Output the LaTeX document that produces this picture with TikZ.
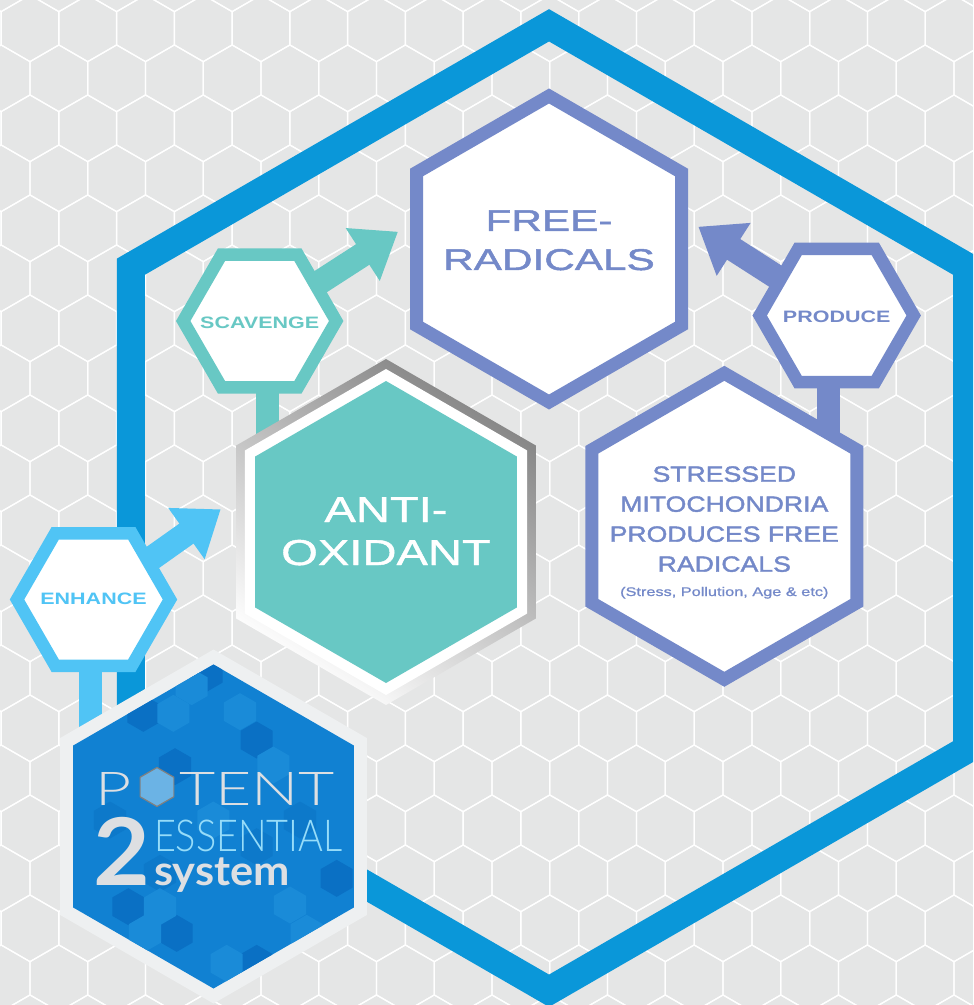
\documentclass[tikz,border=0pt]{standalone}
\usepackage{fontspec}
\usetikzlibrary{shapes.geometric,arrows.meta}
\setmainfont{Liberation Sans}
\newfontfamily\wideA[FakeStretch=1.41,FakeBold=1.6]{Liberation Sans}
\newfontfamily\wideB[FakeStretch=1.31,FakeBold=1.2]{Liberation Sans}
\newfontfamily\wideC[FakeStretch=1.21,FakeBold=1.8]{Liberation Sans}
\newfontfamily\wideD[FakeStretch=1.30]{Liberation Sans Bold}
\newfontfamily\wideS[FakeStretch=1.30,FakeBold=1.0]{Liberation Sans}
\newfontfamily\logothin[FakeStretch=1.34]{Lato}[UprightFont={* Light}]
\newfontfamily\logonarrow[FakeStretch=0.86]{Lato}[UprightFont={* Light}]
\newfontfamily\logobold[FakeStretch=1.05]{Lato}[UprightFont={* Bold}]
\definecolor{tilegray}{HTML}{E5E6E6}
\definecolor{frameblue}{HTML}{0A97D9}
\definecolor{sky}{HTML}{50C4F5}
\definecolor{teal2}{HTML}{68C8C4}
\definecolor{peri}{HTML}{7489C9}
\definecolor{logoblue}{HTML}{1181D2}
\definecolor{logodark}{HTML}{0A70C4}
\definecolor{logomid}{HTML}{0D79CA}
\definecolor{logolight}{HTML}{1A8BD8}
\definecolor{ringgray}{HTML}{EEF0F1}
\definecolor{silver}{HTML}{DDDFE2}
\def\u{0.75pt}
\tikzset{
  x=0.75pt,y=-0.75pt,
  hexnode/.style={regular polygon,regular polygon sides=6,shape border rotate=30,outer sep=0pt,inner sep=0pt,minimum size=#1*1.5pt},
  flathex/.style={regular polygon,regular polygon sides=6,outer sep=0pt,inner sep=0pt,minimum size=#1*1.5pt},
  stem/.style={line width=23*\u},
  pointer/.style={line width=24.5*\u,-{Triangle[length=31.5pt,width=45pt]}},
  label/.style={anchor=base,inner sep=0pt,outer sep=0pt},
  tile/.style={draw=white,line width=1.25*\u,line join=miter},
}
\newcommand{\hexat}[3]{([shift={(#1,#2)}]90:#3) -- ([shift={(#1,#2)}]150:#3) -- ([shift={(#1,#2)}]210:#3) -- ([shift={(#1,#2)}]270:#3) -- ([shift={(#1,#2)}]330:#3) -- ([shift={(#1,#2)}]30:#3) -- cycle}
\begin{document}
\begin{tikzpicture}
\clip (0,0) rectangle (973,1005);
\fill[tilegray] (0,0) rectangle (973,1005);
% background honeycomb
\foreach \k in {-1,...,20}{
  \pgfmathsetmacro\yy{28.3+50*\k}
  \pgfmathsetmacro\off{mod(\k+2,2)*28.87}
  \foreach \i in {-1,...,17}{
    \pgfmathsetmacro\xx{30+\off+57.75*\i}
    \path[tile] ([shift={(\xx,\yy)}]90:33.33) -- ([shift={(\xx,\yy)}]150:33.33) -- ([shift={(\xx,\yy)}]210:33.33) -- ([shift={(\xx,\yy)}]270:33.33) -- ([shift={(\xx,\yy)}]330:33.33) -- ([shift={(\xx,\yy)}]30:33.33) -- cycle;
  }
}
% big frame
\node[hexnode=482.7,draw=frameblue,line width=28*\u,line join=miter] (frame) at (549,508) {};
% named anchors of connectors
\coordinate (scavTip) at (398,231.7);
\coordinate (prodTip) at (698.3,226.7);
\coordinate (enhTip) at (220.7,509.3);
\coordinate (scavStem) at (267.5,440);
\coordinate (prodStem) at (828,440);
\coordinate (enhStem) at (90,740);
\node[flathex=83,inner sep=0pt] (scav) at (259.7,321) {};
\node[flathex=84,inner sep=0pt] (prod) at (836.7,315.5) {};
\node[flathex=83,inner sep=0pt] (enh) at (93.5,599.5) {};
% connectors
\draw[stem,teal2] (scavStem |- scav) -- (scavStem);
\draw[stem,peri] (prodStem |- prod) -- (prodStem);
\draw[stem,sky] (enhStem |- enh) -- (enhStem);
\draw[pointer,teal2] (scav.center) -- (scavTip);
\draw[pointer,peri] (prod.center) -- (prodTip);
\draw[pointer,sky] (enh.center) -- (enhTip);
% small hexagons
\node[flathex=76.5,draw=teal2,fill=white,line width=12.5*\u,line join=miter] at (scav) {};
\node[flathex=77,draw=peri,fill=white,line width=12.5*\u,line join=miter] at (prod) {};
\node[flathex=76.5,draw=sky,fill=white,line width=12.5*\u,line join=miter] at (enh) {};
% main hexagons
\node[hexnode=153,draw=peri,fill=white,line width=13*\u,line join=miter] (free) at (549,249) {};
\node[hexnode=153,draw=peri,fill=white,line width=13*\u,line join=miter] (mito) at (724.3,526.3) {};
% antioxidant
\node[hexnode=173,shade,top color=black!48,bottom color=white,shading angle=-35] (antiEdge) at (386,532) {};
\node[hexnode=163,fill=white] (antiRing) at (386,532) {};
\node[hexnode=151,fill=teal2] (anti) at (386,532) {};
% logo
\node[hexnode=177,fill=ringgray] (logoRing) at (213.5,826.5) {};
\node[hexnode=162,fill=logoblue] (logo) at (213.5,826.5) {};
\begin{scope}
  \clip \hexat{213.5}{826.5}{162};
  \foreach \zx/\zy in {430/190,525/350,770/270,1010/685,385/770,530/850,770/940,620/70}{
    \fill[logodark] \hexat{\zx/3}{650+\zy/3}{18.5};}
  \foreach \zx/\zy in {330/510,900/510,770/590,480/670}{
    \fill[logomid] \hexat{\zx/3}{650+\zy/3}{18.5};}
  \foreach \zx/\zy in {575/110,520/190,720/185,820/345,870/765,480/770,435/850,680/940,640/510,920/850}{
    \fill[logolight] \hexat{\zx/3}{650+\zy/3}{18.5};}
\end{scope}
% texts
\node[label,text=peri,font=\wideA\fontsize{22.5pt}{22.5pt}\selectfont] (t1) at (549,231) {FREE-};
\node[label,text=peri,font=\wideA\fontsize{22.5pt}{22.5pt}\selectfont] (t2) at (549,270) {RADICALS};
\node[label,text=white,font=\wideB\fontsize{27pt}{27pt}\selectfont] (t3) at (386,522) {ANTI-};
\node[label,text=white,font=\wideB\fontsize{27pt}{27pt}\selectfont] (t4) at (386,565) {OXIDANT};
\node[label,text=teal2,font=\wideD\fontsize{12.4pt}{12.4pt}\selectfont] (t5) at (259.7,328) {SCAVENGE};
\node[label,text=peri,font=\wideD\fontsize{12.4pt}{12.4pt}\selectfont] (t6) at (836.7,322) {PRODUCE};
\node[label,text=sky,font=\wideD\fontsize{12.4pt}{12.4pt}\selectfont] (t7) at (93.5,604.5) {ENHANCE};
\node[label,text=peri,font=\wideC\fontsize{16.5pt}{16.5pt}\selectfont] (t8) at (724.3,481.7) {STRESSED};
\node[label,text=peri,font=\wideC\fontsize{16.5pt}{16.5pt}\selectfont] (t9) at (724.3,511.7) {MITOCHONDRIA};
\node[label,text=peri,font=\wideC\fontsize{16.5pt}{16.5pt}\selectfont] (t10) at (724.3,541.7) {PRODUCES FREE};
\node[label,text=peri,font=\wideC\fontsize{16.5pt}{16.5pt}\selectfont] (t11) at (724.3,571.7) {RADICALS};
\node[label,text=peri,font=\wideS\fontsize{9.4pt}{9.4pt}\selectfont] (t12) at (724.3,596) {(Stress, Pollution, Age \& etc)};
% logo text
\node[label,anchor=base west,text=silver,font=\logothin\fontsize{35pt}{35pt}\selectfont] (lp) at (95,805) {P};
\node[hexnode=19.5,fill=logolight!55!white!80!logoblue,draw=gray,line width=0.9pt] (lhex) at (157,787) {};
\node[label,anchor=base west,text=silver,font=\logothin\fontsize{35pt}{35pt}\selectfont] (lt) at (179,805) {TENT};
\node[label,anchor=base west,text=silver,font=\logobold\fontsize{70pt}{70pt}\selectfont] (l2) at (93,885) {2};
\node[label,anchor=base west,text=sky!60!white,font=\logonarrow\fontsize{33pt}{33pt}\selectfont] (le) at (154,851) {ESSENTIAL};
\node[label,anchor=base west,text=silver,font=\logobold\fontsize{31pt}{31pt}\selectfont] (ls) at (154,885) {system};
\end{tikzpicture}
\end{document}
